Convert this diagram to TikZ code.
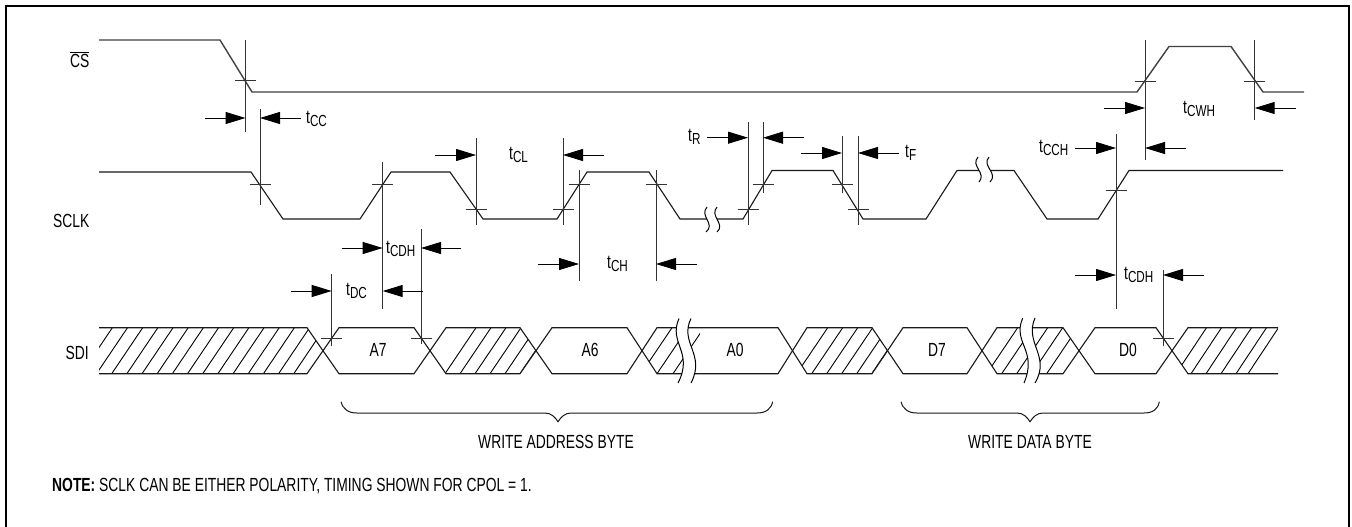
\documentclass[tikz,border=0pt]{standalone}
\usepackage{fontspec}
\setmainfont[FakeStretch=0.73]{Liberation Sans}
\usetikzlibrary{arrows.meta}
\newcommand{\tsub}[1]{t\raisebox{-3pt}{\fontsize{16}{16}\selectfont #1}}
\tikzset{
  sig/.style={line width=1.1pt,line join=miter,color=black!90},
  csig/.style={line width=1.4pt,line join=miter,color=black!75},
  tick/.style={line width=0.9pt,color=black!80},
  dimarrow/.style={line width=1pt,-{Triangle[length=20pt,width=12pt]},shorten >=0pt},
  hatchline/.style={line width=0.9pt},
  lbl/.style={inner sep=0pt,font=\fontsize{19}{20}\selectfont},
  breakfill/.style={fill=white,draw=none},
  breakedge/.style={line width=1pt},
  bracepath/.style={line width=1pt,color=black!90},
}
\newcommand{\crossat}[4]{% x, top, bottom, crossy
  \draw[tick] (#1,#2)--(#1,#3);
  \draw[tick] (#1-10.5,#4)--(#1+10.5,#4);
}
\newcommand{\breakshape}[8]{% left top, left c1, left c2, left bottom, right top, right c1, right c2, right bottom
  \fill[breakfill] #1 .. controls #2 and #3 .. #4 -- #8 .. controls #7 and #6 .. #5 -- cycle;
  \draw[breakedge] #1 .. controls #2 and #3 .. #4;
  \draw[breakedge] #5 .. controls #6 and #7 .. #8;
}
\begin{document}
\begin{tikzpicture}[x=1pt,y=-1pt]
\useasboundingbox (0,0) rectangle (1352,527);
\fill[white] (0,0) rectangle (1352,527);
% frame (open at the bottom)
\draw[line width=2pt,line join=miter] (6,527)--(6,6)--(1349,6)--(1349,527);

% CS
\draw[csig] (99,40)--(220,40)--(252,92)--(1137,92)--(1169,46.5)--(1231,46.5)--(1263,92)--(1304,92);
% SCLK
\draw[sig] (99,172)--(251,172)--(283,219)--(360,219)--(391,172)--(450,172)--(483,219)--(557,219)--(587,172)--(649,172)--(680,219)--(743,219)--(772,170.5)--(833,170.5)--(863,219)--(926,219)--(957,170.5)--(1014,170.5)--(1047,219)--(1098,219)--(1129,170.5)--(1283,170.5);
\breakshape{(707,207)}{(699,216)}{(716,224)}{(706,232)}{(717,207)}{(709,216)}{(726,224)}{(717,232)}
\breakshape{(978,157)}{(970,166)}{(987,173)}{(979,182)}{(989,157)}{(981,166)}{(999,173)}{(990,182)}

% SDI hatching
\def\T{327.7}\def\B{373.7}\def\M{350.5}
\begin{scope}
\clip (99,\T)--(307,\T)--(323,\M)--(307,\B)--(99,\B)--cycle;
\foreach \k in {-2,...,12}
  \draw[hatchline] (111.7+15.17*\k,\B)--(142.7+15.17*\k,\T);
\end{scope}
\begin{scope}
\clip (430,\M)--(446,\T)--(520,\T)--(536,\M)--(520,\B)--(446,\B)--cycle;
\foreach \k in {0,...,5}
  \draw[hatchline] (445+15*\k,\B)--(476+15*\k,\T);
\end{scope}
\begin{scope}
\clip (642,\M)--(657,\T)--(700,\T)--(700,\B)--(657,\B)--cycle;
\foreach \k in {-1,0,1}
  \draw[hatchline] (657+16*\k,\B)--(688+16*\k,\T);
\end{scope}
\begin{scope}
\clip (793,\M)--(807,\T)--(872,\T)--(888,\M)--(872,\B)--(807,\B)--cycle;
\foreach \k in {-1,...,4}
  \draw[hatchline] (811.7+15*\k,\B)--(842.7+15*\k,\T);
\end{scope}
\begin{scope}
\clip (981,\M)--(997,\T)--(1063,\T)--(1079,\M)--(1063,\B)--(997,\B)--cycle;
\foreach \k in {-1,...,3}
  \draw[hatchline] (1001.7+15*\k,\B)--(1032.7+15*\k,\T);
\end{scope}
\begin{scope}
\clip (1172,\M)--(1188,\T)--(1278,\T)--(1278,\B)--(1188,\B)--cycle;
\foreach \b in {1176,1191,1206,1221,1236,1248}
  \draw[hatchline] (\b,\B)--(\b+30.5,\T);
\end{scope}
% SDI outlines
\draw[sig] (99,\T)--(307,\T)--(339,\B)--(414,\B)--(446,\T)--(520,\T)--(552,\B)--(627,\B)--(657,\T)--(778,\T)--(807,\B)--(872,\B)--(903,\T)--(967,\T)--(997,\B)--(1063,\B)--(1095,\T)--(1156,\T)--(1188,\B)--(1278,\B);
\draw[sig] (99,\B)--(307,\B)--(339,\T)--(414,\T)--(446,\B)--(520,\B)--(552,\T)--(627,\T)--(657,\B)--(778,\B)--(807,\T)--(872,\T)--(903,\B)--(967,\B)--(997,\T)--(1063,\T)--(1095,\B)--(1156,\B)--(1188,\T)--(1278,\T);
\breakshape{(679,318.5)}{(668,343)}{(694,352)}{(678,383)}{(691,318.5)}{(679,343)}{(706,354)}{(691,383)}
\breakshape{(1022.7,318)}{(1012,343)}{(1038,350)}{(1024,383)}{(1035,318)}{(1024,343)}{(1051,356)}{(1035,383)}

% timing verticals with crossing ticks
\crossat{245.5}{40}{132}{80}
\draw[tick] (260,109)--(260,205);
\draw[tick] (249.5,184.5)--(270.5,184.5);
\crossat{382.7}{162}{309}{184.5}
\crossat{421}{229}{344}{338}
\crossat{331.7}{274}{346}{338}
\crossat{476}{138}{225}{209}
\crossat{563}{138}{225}{209}
\crossat{579}{170}{281}{184.7}
\crossat{656}{170}{281}{184.7}
\crossat{748}{122}{225}{209}
\crossat{763}{122}{193}{184.7}
\crossat{842}{136}{193}{184.7}
\crossat{858}{136}{225}{209}
\crossat{1145}{40}{160}{81}
\crossat{1254.7}{40}{119.6}{81}
\crossat{1116}{134}{309}{190}
\crossat{1163}{270}{346}{338}

% dimension arrows
\draw[dimarrow] (205,118)--(245.5,118);
\draw[dimarrow] (300.5,118)--(260,118);
\draw[dimarrow] (342,248)--(382.7,248);
\draw[dimarrow] (461,248)--(421,248);
\draw[dimarrow] (290.5,291)--(331.7,291);
\draw[dimarrow] (423,291)--(382.7,291);
\draw[dimarrow] (435,155)--(476,155);
\draw[dimarrow] (604,155)--(563,155);
\draw[dimarrow] (538,264)--(579,264);
\draw[dimarrow] (697,264)--(656,264);
\draw[dimarrow] (707,137.7)--(748,137.7);
\draw[dimarrow] (804,137.7)--(763,137.7);
\draw[dimarrow] (801,153)--(842,153);
\draw[dimarrow] (899,153)--(858,153);
\draw[dimarrow] (1104,108)--(1145,108);
\draw[dimarrow] (1296,108)--(1254.7,108);
\draw[dimarrow] (1075,148)--(1116,148);
\draw[dimarrow] (1186,148)--(1145,148);
\draw[dimarrow] (1075,275)--(1116,275);
\draw[dimarrow] (1204,275)--(1163,275);

% braces
\draw[bracepath] (341,401.7) .. controls (343,409) and (348,413) .. (357,413) -- (545,413) .. controls (551,413) and (555,417) .. (558,421.7) .. controls (561,417) and (565,413) .. (571,413) -- (757,413) .. controls (766,413) and (771,409) .. (772.7,401.7);
\draw[bracepath] (901,401.7) .. controls (903,409) and (908,413) .. (917,413) -- (1017,413) .. controls (1023,413) and (1027,417) .. (1030,421.7) .. controls (1033,417) and (1037,413) .. (1043,413) -- (1144,413) .. controls (1153,413) and (1158,409) .. (1159.3,401.7);

% labels
\node[lbl,anchor=east] (csl) at (89.5,67) {\raisebox{0pt}[0pt][0pt]{$\overline{\hbox{CS}}$}};
\node[lbl,anchor=east] (sclkl) at (89.5,220.5) {SCLK};
\node[lbl,anchor=east] (sdil) at (89,353) {SDI};
\node[lbl,anchor=west] (tcc) at (306,119) {\tsub{CC}};
\node[lbl,anchor=west] (tcdha) at (386,249) {\tsub{CDH}};
\node[lbl,anchor=west] (tdc) at (346,291) {\tsub{DC}};
\node[lbl,anchor=west] (tcl) at (509,155) {\tsub{CL}};
\node[lbl,anchor=west] (tch) at (607,264) {\tsub{CH}};
\node[lbl,anchor=west] (tr) at (688,137) {\tsub{R}};
\node[lbl,anchor=west] (tf) at (905,153) {\tsub{F}};
\node[lbl,anchor=west] (tcwh) at (1183,109) {\tsub{CWH}};
\node[lbl,anchor=west] (tcch) at (1039,148) {\tsub{CCH}};
\node[lbl,anchor=west] (tcdhb) at (1124,275) {\tsub{CDH}};
\node[lbl] (a7) at (378,350) {A7};
\node[lbl] (a6) at (590,350) {A6};
\node[lbl] (a0) at (735,350) {A0};
\node[lbl] (d7) at (937,350) {D7};
\node[lbl] (d0) at (1128,350) {D0};
\node[lbl] (wab) at (556,441.7) {WRITE ADDRESS BYTE};
\node[lbl] (wdb) at (1030,441.7) {WRITE DATA BYTE};
\node[lbl,anchor=west] (note) at (52,486) {\textbf{NOTE:} SCLK CAN BE EITHER POLARITY, TIMING SHOWN FOR CPOL = 1.};
\end{tikzpicture}
\end{document}
